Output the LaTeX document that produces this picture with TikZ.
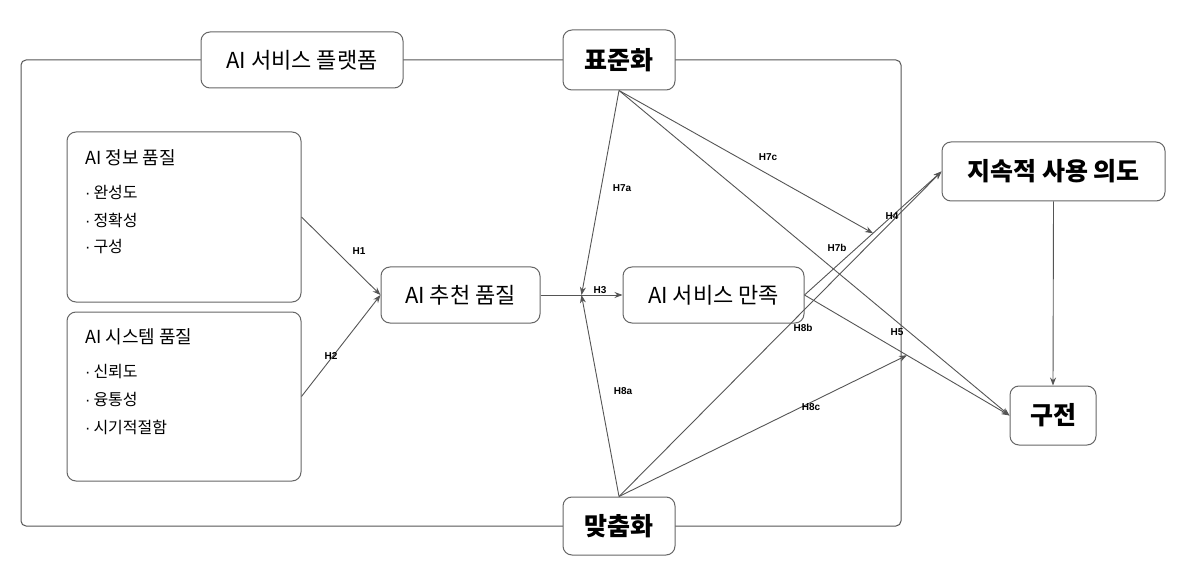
\documentclass[tikz,border=0pt]{standalone}
\usepackage{fontspec}
\setmainfont{Noto Sans CJK KR}
\newfontfamily\labfont{Liberation Sans}
\usetikzlibrary{arrows.meta,calc}
\definecolor{linegray}{HTML}{555555}
\definecolor{boxgray}{HTML}{666666}
\newcommand{\bul}{{\labfont\fontsize{16}{20}\selectfont ·}\hspace{3pt}}
\begin{document}
\begin{tikzpicture}[x=1pt,y=-1pt,
  box/.style={draw=boxgray, line width=1pt, rounded corners=9pt, fill=white, inner sep=0pt, align=center},
  normtxt/.style={font=\fontsize{22}{26}\selectfont},
  boldtxt/.style={font=\fontsize{25}{29}\selectfont\bfseries},
  conn/.style={draw=linegray, line width=0.9pt, -{Stealth[length=8pt,width=6pt]}},
  hlab/.style={font=\labfont\bfseries\fontsize{10}{12}\selectfont, inner sep=0pt},
  ttl/.style={anchor=west, inner sep=0pt, font=\fontsize{18}{22}\selectfont},
  itm/.style={anchor=west, inner sep=0pt, font=\fontsize{16}{20}\selectfont}]
\useasboundingbox (0,0) rectangle (1200,588);
\fill[white] (0,0) rectangle (1200,588);
% outer frame
\draw[draw=linegray, line width=1pt, rounded corners=5pt] (21,60) rectangle (901,526);
% nodes
\node[box, normtxt, minimum width=202pt, minimum height=56pt] (plat) at (302,60) {AI 서비스 플랫폼};
\node[box, boldtxt, minimum width=112pt, minimum height=60pt] (std) at (619,60) {표준화};
\node[box, boldtxt, minimum width=112pt, minimum height=58pt] (cus) at (619,526) {맞춤화};
\node[box, minimum width=234pt, minimum height=170pt] (info) at (184,217) {};
\node[box, minimum width=234pt, minimum height=169pt] (sys) at (184,396.5) {};
\node[box, normtxt, minimum width=159pt, minimum height=56pt] (rec) at (460.5,295) {AI 추천 품질};
\node[box, normtxt, minimum width=181pt, minimum height=56pt] (sat) at (713.5,295) {AI 서비스 만족};
\node[box, boldtxt, minimum width=223pt, minimum height=59pt] (int) at (1053.5,171.5) {지속적 사용 의도};
\node[box, boldtxt, minimum width=86pt, minimum height=59pt] (wom) at (1053,415.5) {구전};
% inner texts
\node[ttl] (t1) at (85,158) {AI 정보 품질};
\node[itm] (i11) at (85,192) {\bul 완성도};
\node[itm] (i12) at (85,220) {\bul 정확성};
\node[itm] (i13) at (85,247) {\bul 구성};
\node[ttl] (t2) at (85,337) {AI 시스템 품질};
\node[itm] (i21) at (85,372) {\bul 신뢰도};
\node[itm] (i22) at (85,399) {\bul 융통성};
\node[itm] (i23) at (85,427) {\bul 시기적절함};
% connectors
\draw[conn] (info.east) -- (rec.west);
\draw[conn] (sys.east) -- (rec.west);
\draw[conn] (rec.east) -- (sat.west);
\coordinate (m3) at ($(rec.east)!0.5!(sat.west)$);
\draw[conn] (sat.east) -- (int.west);
\coordinate (m4) at ($(sat.east)!0.5!(int.west)$);
\draw[conn] (sat.east) -- (wom.west);
\coordinate (m5) at ($(sat.east)!0.5!(wom.west)$);
\draw[conn] (int.south) -- (wom.north);
\draw[conn] (std.south) -- (m3);
\draw[conn] (cus.north) -- (m3);
\draw[conn] (std.south) -- (m4);
\draw[conn] (std.south) -- (wom.west);
\draw[conn] (cus.north) -- (int.west);
\draw[conn] (cus.north) -- (m5);
% labels
\node[hlab] (l1) at (359,251) {H1};
\node[hlab] (l2) at (331,356) {H2};
\node[hlab] (l3) at (600,290) {H3};
\node[hlab] (l7a) at (622,188) {H7a};
\node[hlab] (l8a) at (623,391) {H8a};
\node[hlab] (l7c) at (768,157) {H7c};
\node[hlab] (l7b) at (837,248) {H7b};
\node[hlab] (l4) at (892,216) {H4};
\node[hlab] (l8b) at (803,328) {H8b};
\node[hlab] (l5) at (897,332) {H5};
\node[hlab] (l8c) at (811,407) {H8c};
\end{tikzpicture}
\end{document}
